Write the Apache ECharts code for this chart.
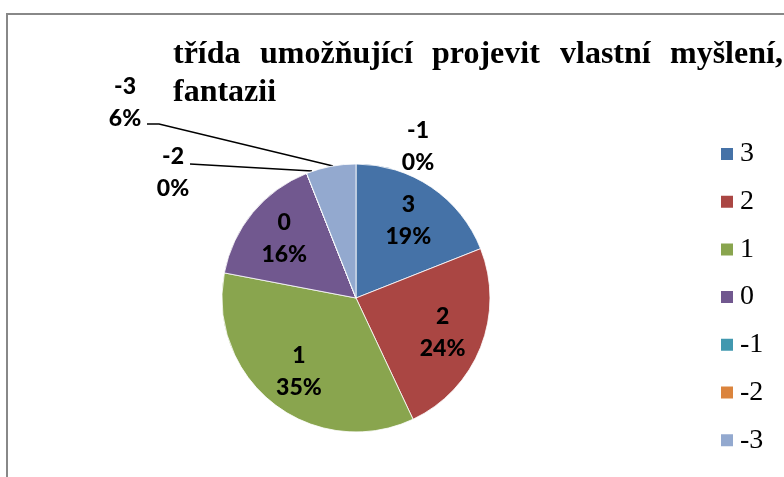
<!DOCTYPE html>
<html>
<head>
<meta charset="utf-8">
<script src="https://cdn.jsdelivr.net/npm/echarts@6/dist/echarts.min.js"></script>
<style>html,body{margin:0;padding:0;background:#fff;}#c{width:784px;height:477px;}</style>
</head>
<body>
<div id="c"></div>
<script>
var categories = ['3', '2', '1', '0', '-1', '-2', '-3'];
var values = [19, 24, 35, 16, 0, 0, 6];
var colors = ['#4572A7', '#AA4643', '#89A54E', '#71588F', '#4198AF', '#DB843D', '#93A9CF'];
var titleLine1 = ['třída', 'umožňující', 'projevit', 'vlastní', 'myšlení,'];
var titleLine2 = 'fantazii';

var CX = 356, CY = 298, R = 134;
var wordX = [173, 260, 432, 560, 670];

var outsideLabels = {
  '-1': { x: 418, y: 147, line: null },
  '-2': { x: 173, y: 173, line: [[190, 164], [190, 164], [312, 171]] },
  '-3': { x: 125, y: 103, line: [[147, 124], [159, 124], [333, 166]] }
};

var chart = echarts.init(document.getElementById('c'), null, { renderer: 'canvas' });

var data = categories.map(function (c, i) {
  var d = { name: c, value: values[i], itemStyle: { color: colors[i] } };
  if (outsideLabels[c]) {
    d.label = { position: 'outside' };
    d.labelLine = { show: !!outsideLabels[c].line };
  }
  return d;
});

var graphics = [{
  type: 'rect', silent: true,
  shape: { x: 7, y: 14, width: 820, height: 500 },
  style: { fill: 'none', stroke: '#888888', lineWidth: 2 }
}];
titleLine1.forEach(function (w, i) {
  graphics.push({
    type: 'text', left: wordX[i], top: 39,
    style: { text: w, font: 'bold 32px "Liberation Serif"', fill: '#000' }
  });
});
graphics.push({
  type: 'text', left: wordX[0], top: 77,
  style: { text: titleLine2, font: 'bold 32px "Liberation Serif"', fill: '#000' }
});

chart.setOption({
  animation: false,
  backgroundColor: '#ffffff',
  graphic: graphics,
  legend: {
    orient: 'vertical',
    left: 719, top: 140,
    padding: 0,
    icon: 'rect',
    itemWidth: 14, itemHeight: 14,
    itemGap: 19.7,
    data: categories,
    textStyle: { fontFamily: 'Liberation Serif', fontSize: 28, lineHeight: 28, color: '#000', padding: [0, 0, 0, 1] }
  },
  series: [{
    type: 'pie',
    center: [CX, CY],
    radius: R,
    startAngle: 90,
    clockwise: true,
    avoidLabelOverlap: false,
    percentPrecision: 0,
    itemStyle: { borderColor: '#ffffff', borderWidth: 0.8 },
    label: {
      show: true,
      position: 'inside',
      formatter: '{b}\n{d}%',
      fontFamily: 'Lato',
      fontWeight: 900,
      fontSize: 23,
      lineHeight: 32,
      color: '#000'
    },
    labelLine: { show: false, lineStyle: { color: '#000', width: 1.3 } },
    labelLayout: function (p) {
      var name = categories[p.dataIndex];
      var o = outsideLabels[name];
      if (o) {
        var res = { x: o.x, y: o.y, align: 'center', verticalAlign: 'middle' };
        if (o.line) res.labelLinePoints = o.line;
        return res;
      }
      var lx = p.labelRect.x + p.labelRect.width / 2;
      var ly = p.labelRect.y + p.labelRect.height / 2;
      return {
        x: CX + (lx - CX) * 1.33,
        y: CY + (ly - CY) * 1.33,
        align: 'center', verticalAlign: 'middle'
      };
    },
    data: data
  }]
});
</script>
</body>
</html>
